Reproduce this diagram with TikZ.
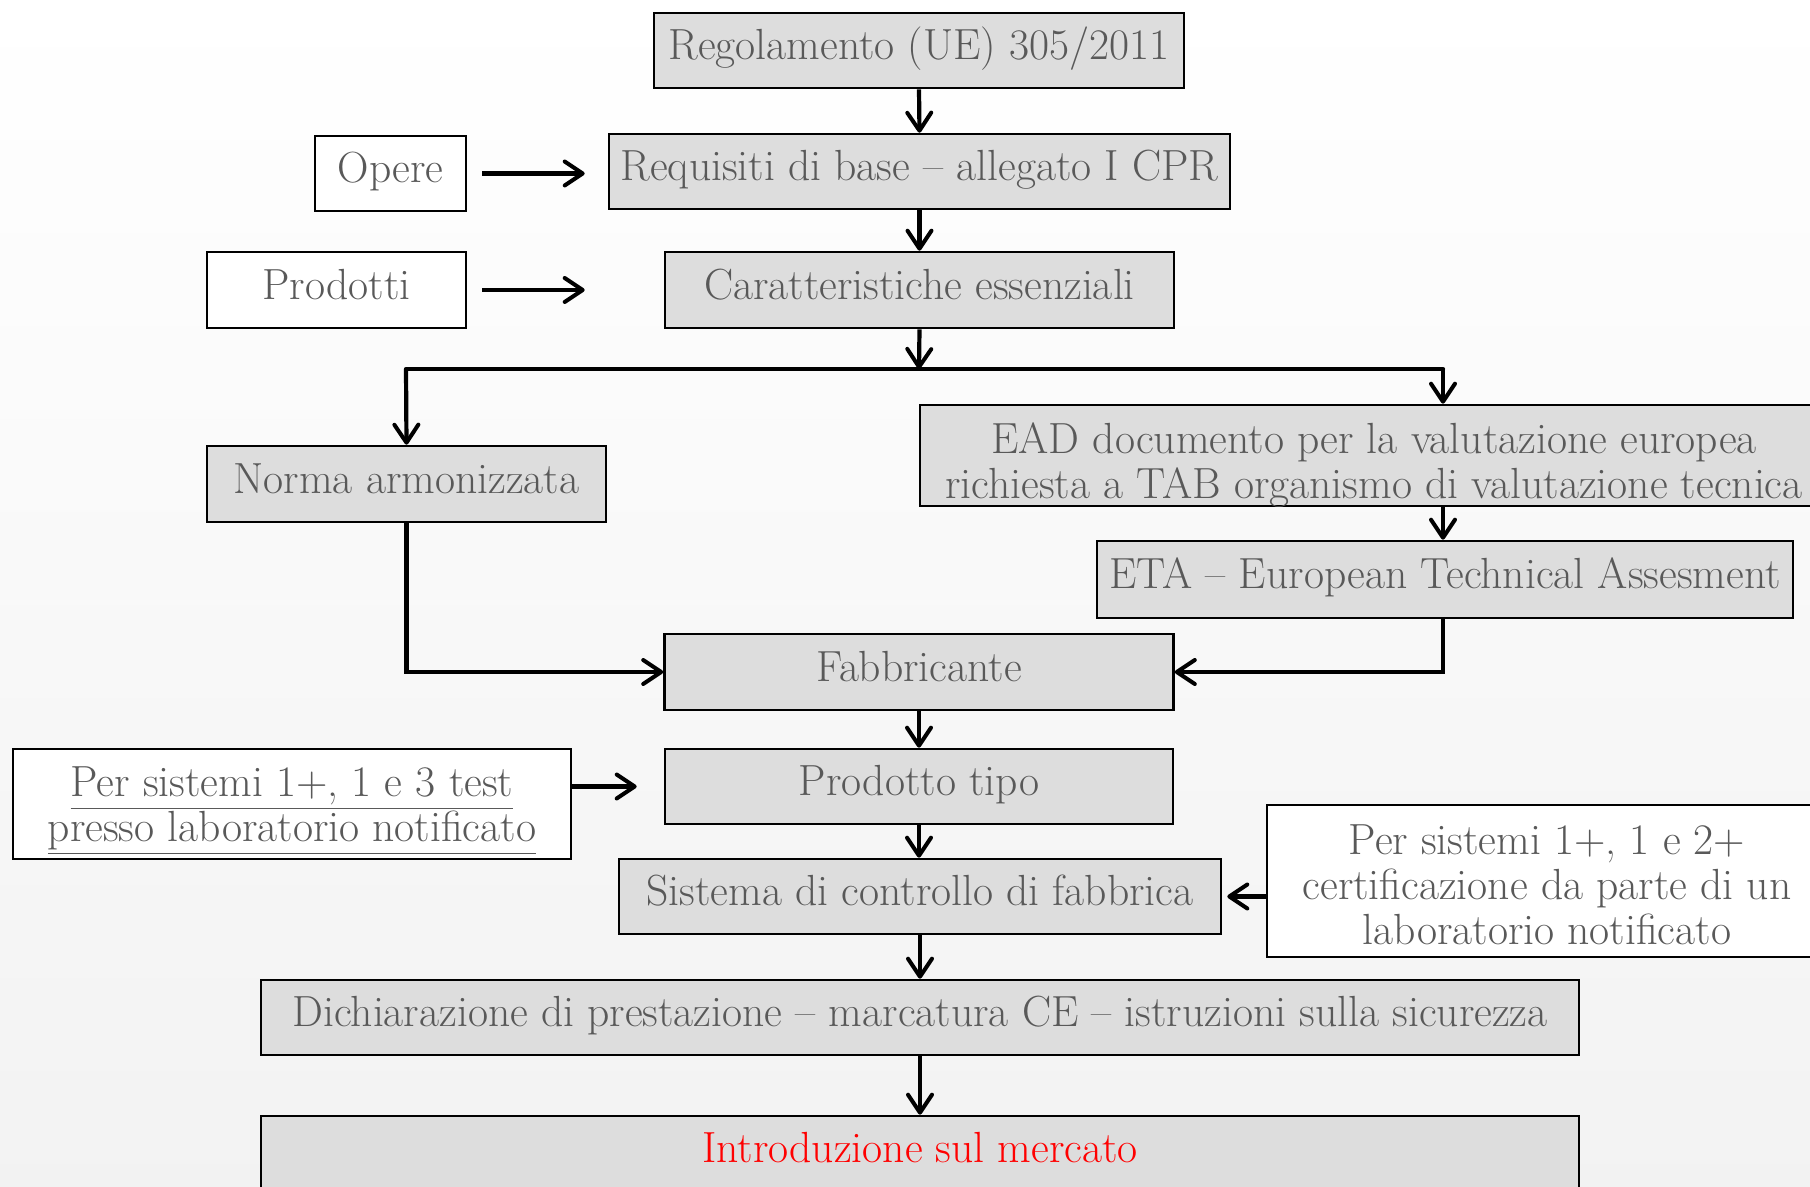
\documentclass[tikz,border=0pt]{standalone}
\usetikzlibrary{arrows.meta}
\definecolor{txt}{HTML}{595959}
\definecolor{boxfill}{HTML}{DDDDDD}
\tikzset{
 base/.style={draw=black, line width=1.3pt, text=txt, font=\fontsize{21.8}{22.5}\selectfont, align=center, inner sep=0pt, text height=15pt, text depth=5.6pt},
 gbox/.style={base, fill=boxfill},
 wbox/.style={base, fill=white},
 mtext/.style={text=txt, font=\fontsize{21.8}{22.5}\selectfont, align=center, inner sep=0pt},
 arr/.style={line width=2.1pt, -{Straight Barb[length=9pt,width=12pt,line width=2pt,round]}},
 lin/.style={line width=2.1pt},
}
\begin{document}
\begin{tikzpicture}[x=0.5pt,y=-0.5pt]
\shade[top color=white, bottom color=black!5] (0,0) rectangle (1810,1187);
\clip (0,0) rectangle (1810,1187);
\node[gbox, minimum width=265pt, minimum height=37.5pt] (reg) at (919,50.5) {Regolamento (UE) 305/2011};
\node[wbox, minimum width=75.5pt, minimum height=37.5pt] (opere) at (390.5,173.5) {Opere};
\node[gbox, minimum width=310.5pt, minimum height=37.5pt] (req) at (919.5,171.5) {Requisiti di base -- allegato I CPR};
\node[wbox, minimum width=129.5pt, minimum height=38pt] (prod) at (336.5,290) {Prodotti};
\node[gbox, minimum width=254.5pt, minimum height=38pt] (car) at (919.5,290) {Caratteristiche essenziali};
\node[gbox, minimum width=199.5pt, minimum height=38pt] (norma) at (406.5,484) {Norma armonizzata};
\node[gbox, minimum width=454pt, minimum height=50.5pt] (ead) at (1374,455.5) {};
\node[mtext] (eadt) at ([yshift=-5pt]ead.center) {EAD documento per la valutazione europea\\richiesta a TAB organismo di valutazione tecnica};
\node[gbox, minimum width=348pt, minimum height=38.5pt] (eta) at (1445,579.5) {ETA -- European Technical Assesment};
\node[gbox, minimum width=254.5pt, minimum height=38pt] (fabb) at (919,672) {Fabbricante};
\node[wbox, minimum width=279pt, minimum height=55pt] (ps3) at (292,804) {};
\node[mtext] (ps3t) at ([yshift=-3.3pt]ps3.center) {\underline{Per sistemi 1+, 1 e 3 test}\\\underline{presso laboratorio notificato}};
\node[gbox, minimum width=254pt, minimum height=37.5pt] (ptipo) at (919,786.5) {Prodotto tipo};
\node[wbox, minimum width=280pt, minimum height=76pt] (ps2) at (1547,881) {};
\node[mtext] (ps2t) at ([yshift=-2pt]ps2.center) {Per sistemi 1+, 1 e 2+\\certificazione da parte di un\\laboratorio notificato};
\node[gbox, minimum width=301pt, minimum height=37.5pt] (sist) at (920,896.5) {Sistema di controllo di fabbrica};
\node[gbox, minimum width=659pt, minimum height=37.5pt] (dich) at (920,1017.5) {Dichiarazione di prestazione -- marcatura CE -- istruzioni sulla sicurezza};
\node[gbox, minimum width=659pt, minimum height=37.5pt, text=red] (intro) at (920,1153.5) {Introduzione sul mercato};

\coordinate (bm) at (919,369);
\coordinate (bl) at (406,369);
\coordinate (br) at (1443,369);

\draw[arr] (reg.south) -- (req.north);
\draw[arr] (req.south) -- (car.north);
\draw[arr] ([xshift=7.5pt]opere.east) -- ([xshift=-11.5pt]opere.east -| req.west);
\draw[arr] ([xshift=7.5pt]prod.east) -- ([xshift=-39.5pt]car.west);
\draw[arr] (car.south) -- (bm);
\draw[lin, line cap=round] (bl) -- (br);
\draw[arr] (bl) -- (norma.north);
\draw[arr] (br) -- (br |- ead.north);
\draw[arr] (br |- ead.south) -- (eta.north -| br);
\draw[arr] (norma.south) |- (fabb.west);
\draw[arr] (eta.south -| br) |- (fabb.east);
\draw[arr] (fabb.south) -- (ptipo.north);
\draw[arr] (ps3.east |- ptipo.west) -- ([xshift=-13.5pt]ptipo.west);
\draw[arr] (ptipo.south) -- (ptipo.south |- sist.north);
\draw[arr] (ps2.west |- sist.east) -- ([xshift=2.5pt]sist.east);
\draw[arr] (sist.south) -- (dich.north);
\draw[arr] (dich.south) -- (intro.north);
\end{tikzpicture}
\end{document}
